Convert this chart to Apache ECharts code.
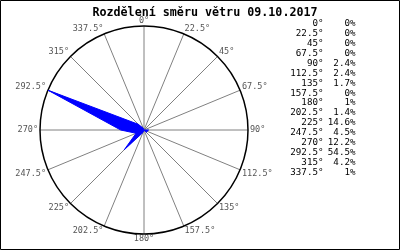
<!DOCTYPE html>
<html><head><meta charset="utf-8">
<script src="https://cdn.jsdelivr.net/npm/echarts@6/dist/echarts.min.js"></script>
<style>html,body{margin:0;padding:0;background:#fff}#c{width:400px;height:250px}</style>
</head><body><div id="c"></div>
<script>
var directions = [0, 22.5, 45, 67.5, 90, 112.5, 135, 157.5, 180, 202.5, 225, 247.5, 270, 292.5, 315, 337.5];
var percents = [0, 0, 0, 0, 2.4, 2.4, 1.7, 0, 1, 1.4, 14.6, 4.5, 12.2, 54.5, 4.2, 1];
var titleText = 'Rozdělení směru větru 09.10.2017';

var chart = echarts.init(document.getElementById('c'), null, {renderer: 'canvas'});
var seriesData = directions.map(function (d, i) { return [percents[i], d]; });
seriesData.push([percents[0], 360]);
var maxVal = Math.max.apply(null, percents);

var graphics = [{
  type: 'rect', silent: true, z: 100,
  shape: {x: 0.5, y: 0.5, width: 399, height: 249},
  style: {fill: 'none', stroke: '#000', lineWidth: 1}
}];
directions.forEach(function (d, i) {
  var y = 23.5 + i * 9.95;
  graphics.push({type: 'text', x: 323.5, y: y, style: {text: d + '°', align: 'right', verticalAlign: 'middle', font: '9.2px "DejaVu Sans Mono"', fill: '#000'}});
  graphics.push({type: 'text', x: 355.5, y: y, style: {text: percents[i] + '%', align: 'right', verticalAlign: 'middle', font: '9.2px "DejaVu Sans Mono"', fill: '#000'}});
});

chart.setOption({
  animation: false,
  title: {
    text: titleText, left: 200, top: 2, textAlign: 'center',
    textStyle: {fontFamily: 'DejaVu Sans Mono', fontWeight: 'bold', fontSize: 11.7, color: '#000'}
  },
  polar: {center: [144, 130], radius: 104},
  angleAxis: {
    type: 'value', min: 0, max: 360, interval: 22.5, startAngle: 90, clockwise: true,
    axisLine: {lineStyle: {color: '#000', width: 1.5}},
    axisTick: {show: false},
    axisLabel: {margin: 2, lineHeight: 6, formatter: function (v) { return v + '°'; }, color: '#555', fontFamily: 'DejaVu Sans Mono', fontSize: 8.5},
    splitLine: {show: true, lineStyle: {color: '#808080', width: 1}}
  },
  radiusAxis: {
    type: 'value', min: 0, max: maxVal,
    axisLine: {show: false}, axisTick: {show: false}, axisLabel: {show: false}, splitLine: {show: false}
  },
  series: [{
    type: 'line', coordinateSystem: 'polar', data: seriesData, symbol: 'none', smooth: false,
    lineStyle: {color: '#0000ff', width: 1},
    areaStyle: {color: '#0000ff', opacity: 1}
  }],
  graphic: graphics
});
</script></body></html>
